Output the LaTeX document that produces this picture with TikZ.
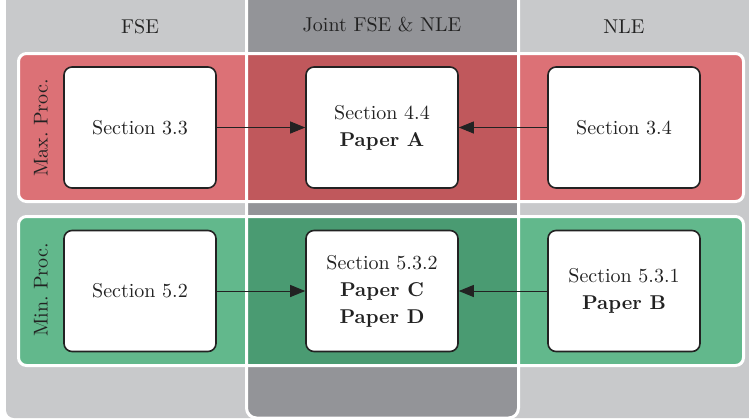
\documentclass[tikz,border=0pt]{standalone}
\usetikzlibrary{arrows.meta}
\definecolor{graylight}{HTML}{C8C9CB}
\definecolor{graydark}{HTML}{939498}
\definecolor{redlight}{HTML}{DC7176}
\definecolor{reddark}{HTML}{C0585C}
\definecolor{greenlight}{HTML}{62B88C}
\definecolor{greendark}{HTML}{4A9B72}
\definecolor{inkcol}{HTML}{222222}
\tikzset{
  secbox/.style={draw=inkcol, line width=0.8pt, fill=white, rounded corners=4pt,
    minimum width=76pt, minimum height=60.5pt, align=center, inner sep=2pt, text=inkcol},
  link/.style={-{Triangle[length=7.5pt,width=6pt]}, line width=0.5pt, draw=inkcol},
  heading/.style={text=inkcol, anchor=base},
  rowlabel/.style={rotate=90, text=inkcol},
  divider/.style={draw=white, line width=1.5pt}
}
\begin{document}
\begin{tikzpicture}[x=0.5pt,y=-0.5pt,font=\fontsize{10}{13.5}\selectfont]
\useasboundingbox (0,0) rectangle (749,419);
\begin{scope}
\clip (0,0) rectangle (749,419);
% Background and joint column
\fill[graylight, rounded corners=4pt] (6,-10) rectangle (770,418);
\fill[graydark, rounded corners=5pt] (246.5,-10) rectangle (518.5,418);
% Max. Proc. row
\fill[redlight, rounded corners=4pt] (18.5,53.5) rectangle (743.5,201.5);
\fill[reddark] (246.5,53.5) rectangle (518.5,201.5);
% Min. Proc. row
\fill[greenlight, rounded corners=4pt] (18.5,216.5) rectangle (743.5,365.5);
\fill[greendark] (246.5,216.5) rectangle (518.5,365.5);
% White borders
\draw[divider, rounded corners=4pt] (18.5,53.5) rectangle (743.5,201.5);
\draw[divider, rounded corners=4pt] (18.5,216.5) rectangle (743.5,365.5);
\draw[divider, rounded corners=5pt] (246.5,-10) rectangle (518.5,418);
\end{scope}

% Column headings
\node[heading] (fse) at (140,33) {FSE};
\node[heading] (joint) at (382,31) {Joint FSE \& NLE};
\node[heading] (nle) at (624,33) {NLE};

% Row labels
\node[rowlabel] (maxlabel) at (41,128) {Max.\ Proc.};
\node[rowlabel] (minlabel) at (41,290) {Min.\ Proc.};

% Section boxes
\node[secbox] (maxfse) at (140,127.5) {Section 3.3};
\node[secbox] (maxjoint) at (382,127.5) {Section 4.4\\\textbf{Paper A}};
\node[secbox] (maxnle) at (624,127.5) {Section 3.4};
\node[secbox] (minfse) at (140,291) {Section 5.2};
\node[secbox] (minjoint) at (382,291) {Section 5.3.2\\\textbf{Paper C}\\\textbf{Paper D}};
\node[secbox] (minnle) at (624,291) {Section 5.3.1\\\textbf{Paper B}};

% Links
\draw[link] (maxfse) -- (maxjoint);
\draw[link] (maxnle) -- (maxjoint);
\draw[link] (minfse) -- (minjoint);
\draw[link] (minnle) -- (minjoint);
\end{tikzpicture}
\end{document}
